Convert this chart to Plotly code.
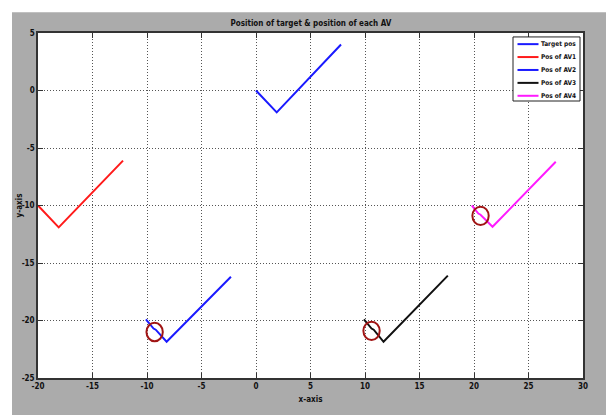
import plotly.graph_objects as go

# Trajectories (x, y) of the target and each AV
target_x = [0, 1.9, 7.8]
target_y = [0, -1.9, 4.0]

av1_x = [-20, -18.1, -12.2]
av1_y = [-10, -11.9, -6.1]

av2_x = [-10.1, -9.4, -9.2, -8.2, -2.3]
av2_y = [-19.9, -20.7, -20.8, -21.85, -16.2]

av3_x = [9.9, 10.6, 10.8, 11.7, 17.6]
av3_y = [-19.9, -20.7, -20.8, -21.85, -16.1]

av4_x = [19.8, 20.4, 20.6, 21.7, 27.5]
av4_y = [-10.0, -10.7, -10.8, -11.85, -6.2]

# Highlight circles around the start of each AV's approach
circle_cx = [-9.3, 10.6, 20.6]
circle_cy = [-21.0, -20.9, -10.9]
circle_rx = 0.75
circle_ry = 0.8

x_ticks = [-20, -15, -10, -5, 0, 5, 10, 15, 20, 25, 30]
y_ticks = [-25, -20, -15, -10, -5, 0, 5]

FONT = "Liberation Sans Narrow, Arial Narrow, DejaVu Sans Condensed, sans-serif"
GRAY = "#ababab"
TXT = "#111111"

series = [
    ("Target pos", target_x, target_y, "#1a1aff"),
    ("Pos of AV1", av1_x, av1_y, "#ff1a1a"),
    ("Pos of AV2", av2_x, av2_y, "#1a1aff"),
    ("Pos of AV3", av3_x, av3_y, "#111111"),
    ("Pos of AV4", av4_x, av4_y, "#ff1aff"),
]

# plot-area geometry in pixels (used to place the frame and legend box)
W, H = 606, 415
ML, MR, MT, MB = 38, 23, 33, 32
PW, PH = W - ML - MR, H - MT - MB


def px_x(p):
    return (p - ML) / PW


def px_y(p):
    return (H - MB - p) / PH


fig = go.Figure()
for name, xs, ys, color in series:
    fig.add_trace(go.Scatter(x=xs, y=ys, mode="lines", name=name,
                             line=dict(color=color, width=2), showlegend=False))

shapes = []
for cx, cy in zip(circle_cx, circle_cy):
    shapes.append(dict(type="circle", xref="x", yref="y",
                       x0=cx - circle_rx, x1=cx + circle_rx,
                       y0=cy - circle_ry, y1=cy + circle_ry,
                       line=dict(color="#a01414", width=2)))

# white strips along the top and left edges of the gray figure frame
shapes.append(dict(type="rect", xref="paper", yref="paper", layer="below",
                   x0=-0.2, x1=1.2, y0=px_y(12), y1=1.2,
                   fillcolor="white", line=dict(width=0)))
shapes.append(dict(type="rect", xref="paper", yref="paper", layer="below",
                   x0=-0.2, x1=px_x(12), y0=-0.2, y1=1.2,
                   fillcolor="white", line=dict(width=0)))

annotations = []

# legend box with line samples and labels
shapes.append(dict(type="rect", xref="paper", yref="paper",
                   x0=px_x(513), x1=px_x(580), y0=px_y(102), y1=px_y(37),
                   fillcolor="white", line=dict(color="#222222", width=1)))
for i, (name, _, _, color) in enumerate(series):
    yy = px_y(44.3 + 13.1 * i)
    shapes.append(dict(type="line", xref="paper", yref="paper",
                       x0=px_x(517.5), x1=px_x(538.5), y0=yy, y1=yy,
                       line=dict(color=color, width=2)))
    annotations.append(dict(xref="paper", yref="paper", x=px_x(539), y=yy,
                            xanchor="left", yanchor="middle", showarrow=False,
                            text=name,
                            font=dict(family=FONT, size=6.5, color=TXT, weight="bold")))

# y-axis title
annotations.append(dict(xref="paper", yref="paper", x=px_x(19), y=0.5,
                        xanchor="center", yanchor="middle", showarrow=False,
                        text="y-axis", textangle=-90,
                        font=dict(family=FONT, size=8, color=TXT, weight="bold")))

axis_common = dict(
    showgrid=True, gridcolor="#555555", griddash="1px,2px", gridwidth=1,
    zeroline=False, showline=True, linecolor="#333333", linewidth=1.5,
    mirror="ticks", ticks="inside", ticklen=5, tickcolor="#333333",
    tickfont=dict(family=FONT, size=8, color=TXT, weight="bold"),
)

fig.update_layout(
    width=W, height=H,
    margin=dict(l=ML, r=MR, t=MT, b=MB),
    paper_bgcolor=GRAY, plot_bgcolor="white",
    title=dict(text="Position of target & position of each AV",
               x=0.513, xanchor="center", y=0.945, yanchor="middle",
               font=dict(family=FONT, size=8, color=TXT, weight="bold")),
    xaxis=dict(range=[-20, 30], tickvals=x_ticks, ticktext=[str(v) for v in x_ticks],
               title=dict(text="x-axis", standoff=6,
                          font=dict(family=FONT, size=8, color=TXT, weight="bold")),
               **axis_common),
    yaxis=dict(range=[-25, 5], tickvals=y_ticks, ticktext=[str(v) for v in y_ticks],
               **axis_common),
    shapes=shapes,
    annotations=annotations,
    showlegend=False,
)

fig.write_html("out.html")
